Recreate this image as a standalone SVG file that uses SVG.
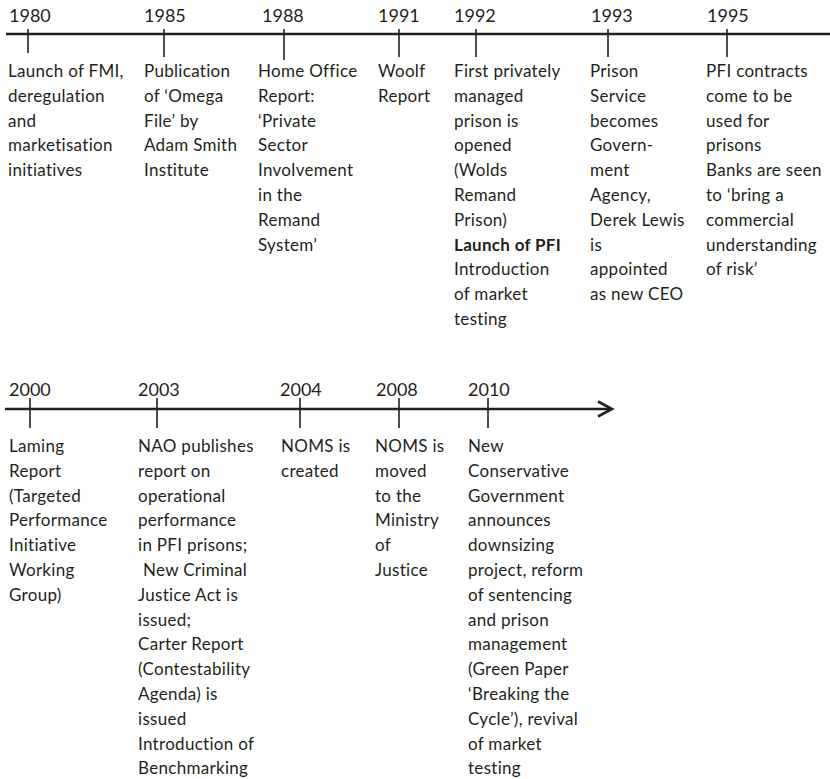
<svg xmlns="http://www.w3.org/2000/svg" width="830" height="779" viewBox="0 0 830 779">
<style>
.t{font-family:Lato,"Open Sans","Liberation Sans",sans-serif;font-size:17px;letter-spacing:0.3px;fill:#231f20}
.y{font-family:Lato,"Open Sans","Liberation Sans",sans-serif;font-size:18px;fill:#231f20}
.b{font-weight:bold}
.ln{stroke:#231f20;stroke-width:2.6;fill:none}
.tk{stroke:#231f20;stroke-width:1.6;fill:none}
</style>
<rect width="830" height="779" fill="#ffffff"/>
<g id="connectors">
<line class="ln" x1="6" y1="34" x2="830" y2="34"/>
<line class="tk" x1="28" y1="29" x2="28" y2="53"/>
<line class="tk" x1="164" y1="29" x2="164" y2="57"/>
<line class="tk" x1="284" y1="29" x2="284" y2="60"/>
<line class="tk" x1="399" y1="29" x2="399" y2="57"/>
<line class="tk" x1="476" y1="29" x2="476" y2="57"/>
<line class="tk" x1="608" y1="29" x2="608" y2="57"/>
<line class="tk" x1="727" y1="29" x2="727" y2="57"/>
<line class="ln" x1="5" y1="409" x2="611" y2="409"/>
<polyline class="ln" points="598,401.5 612,409 598,416.5"/>
<line class="tk" x1="30" y1="398" x2="30" y2="428"/>
<line class="tk" x1="157" y1="398" x2="157" y2="428"/>
<line class="tk" x1="300" y1="398" x2="300" y2="428"/>
<line class="tk" x1="399" y1="398" x2="399" y2="428"/>
<line class="tk" x1="488" y1="398" x2="488" y2="428"/>
</g>
<g id="n1980"><text class="y" x="9" y="22">1980</text>
<text class="t" y="77"><tspan x="8">Launch of FMI,</tspan><tspan x="8" dy="24.8">deregulation</tspan><tspan x="8" dy="24.8">and</tspan><tspan x="8" dy="24.8">marketisation</tspan><tspan x="8" dy="24.8">initiatives</tspan></text></g>
<g id="n1985"><text class="y" x="144" y="22">1985</text>
<text class="t" y="77"><tspan x="144">Publication</tspan><tspan x="144" dy="24.8">of ‘Omega</tspan><tspan x="144" dy="24.8">File’ by</tspan><tspan x="144" dy="24.8">Adam Smith</tspan><tspan x="144" dy="24.8">Institute</tspan></text></g>
<g id="n1988"><text class="y" x="262" y="22">1988</text>
<text class="t" y="77"><tspan x="258">Home Office</tspan><tspan x="258" dy="24.8">Report:</tspan><tspan x="258" dy="24.8">‘Private</tspan><tspan x="258" dy="24.8">Sector</tspan><tspan x="258" dy="24.8">Involvement</tspan><tspan x="258" dy="24.8">in the</tspan><tspan x="258" dy="24.8">Remand</tspan><tspan x="258" dy="24.8">System’</tspan></text></g>
<g id="n1991"><text class="y" x="378" y="22">1991</text>
<text class="t" y="77"><tspan x="378">Woolf</tspan><tspan x="378" dy="24.8">Report</tspan></text></g>
<g id="n1992"><text class="y" x="454" y="22">1992</text>
<text class="t" y="77"><tspan x="454">First privately</tspan><tspan x="454" dy="24.8">managed</tspan><tspan x="454" dy="24.8">prison is</tspan><tspan x="454" dy="24.8">opened</tspan><tspan x="454" dy="24.8">(Wolds</tspan><tspan x="454" dy="24.8">Remand</tspan><tspan x="454" dy="24.8">Prison)</tspan><tspan x="454" dy="24.8" class="b">Launch of PFI</tspan><tspan x="454" dy="24.8">Introduction</tspan><tspan x="454" dy="24.8">of market</tspan><tspan x="454" dy="24.8">testing</tspan></text></g>
<g id="n1993"><text class="y" x="591" y="22">1993</text>
<text class="t" y="77"><tspan x="590">Prison</tspan><tspan x="590" dy="24.8">Service</tspan><tspan x="590" dy="24.8">becomes</tspan><tspan x="590" dy="24.8">Govern-</tspan><tspan x="590" dy="24.8">ment</tspan><tspan x="590" dy="24.8">Agency,</tspan><tspan x="590" dy="24.8">Derek Lewis</tspan><tspan x="590" dy="24.8">is</tspan><tspan x="590" dy="24.8">appointed</tspan><tspan x="590" dy="24.8">as new CEO</tspan></text></g>
<g id="n1995"><text class="y" x="707" y="22">1995</text>
<text class="t" y="77"><tspan x="706">PFI contracts</tspan><tspan x="706" dy="24.8">come to be</tspan><tspan x="706" dy="24.8">used for</tspan><tspan x="706" dy="24.8">prisons</tspan><tspan x="706" dy="24.8">Banks are seen</tspan><tspan x="706" dy="24.8">to ‘bring a</tspan><tspan x="706" dy="24.8">commercial</tspan><tspan x="706" dy="24.8">understanding</tspan><tspan x="706" dy="24.8">of risk’</tspan></text></g>
<g id="n2000"><text class="y" x="9" y="396">2000</text>
<text class="t" y="452"><tspan x="9">Laming</tspan><tspan x="9" dy="24.8">Report</tspan><tspan x="9" dy="24.8">(Targeted</tspan><tspan x="9" dy="24.8">Performance</tspan><tspan x="9" dy="24.8">Initiative</tspan><tspan x="9" dy="24.8">Working</tspan><tspan x="9" dy="24.8">Group)</tspan></text></g>
<g id="n2003"><text class="y" x="138" y="396">2003</text>
<text class="t" y="452"><tspan x="138">NAO publishes</tspan><tspan x="138" dy="24.8">report on</tspan><tspan x="138" dy="24.8">operational</tspan><tspan x="138" dy="24.8">performance</tspan><tspan x="138" dy="24.8">in PFI prisons;</tspan><tspan x="143" dy="24.8">New Criminal</tspan><tspan x="138" dy="24.8">Justice Act is</tspan><tspan x="138" dy="24.8">issued;</tspan><tspan x="138" dy="24.8">Carter Report</tspan><tspan x="138" dy="24.8">(Contestability</tspan><tspan x="138" dy="24.8">Agenda) is</tspan><tspan x="138" dy="24.8">issued</tspan><tspan x="138" dy="24.8">Introduction of</tspan><tspan x="138" dy="24.8">Benchmarking</tspan></text></g>
<g id="n2004"><text class="y" x="280" y="396">2004</text>
<text class="t" y="452"><tspan x="281">NOMS is</tspan><tspan x="281" dy="24.8">created</tspan></text></g>
<g id="n2008"><text class="y" x="376" y="396">2008</text>
<text class="t" y="452"><tspan x="375">NOMS is</tspan><tspan x="375" dy="24.8">moved</tspan><tspan x="375" dy="24.8">to the</tspan><tspan x="375" dy="24.8">Ministry</tspan><tspan x="375" dy="24.8">of</tspan><tspan x="375" dy="24.8">Justice</tspan></text></g>
<g id="n2010"><text class="y" x="468" y="396">2010</text>
<text class="t" y="452"><tspan x="468">New</tspan><tspan x="468" dy="24.8">Conservative</tspan><tspan x="468" dy="24.8">Government</tspan><tspan x="468" dy="24.8">announces</tspan><tspan x="468" dy="24.8">downsizing</tspan><tspan x="468" dy="24.8">project, reform</tspan><tspan x="468" dy="24.8">of sentencing</tspan><tspan x="468" dy="24.8">and prison</tspan><tspan x="468" dy="24.8">management</tspan><tspan x="468" dy="24.8">(Green Paper</tspan><tspan x="468" dy="24.8">‘Breaking the</tspan><tspan x="468" dy="24.8">Cycle’), revival</tspan><tspan x="468" dy="24.8">of market</tspan><tspan x="468" dy="24.8">testing</tspan></text></g>
</svg>
